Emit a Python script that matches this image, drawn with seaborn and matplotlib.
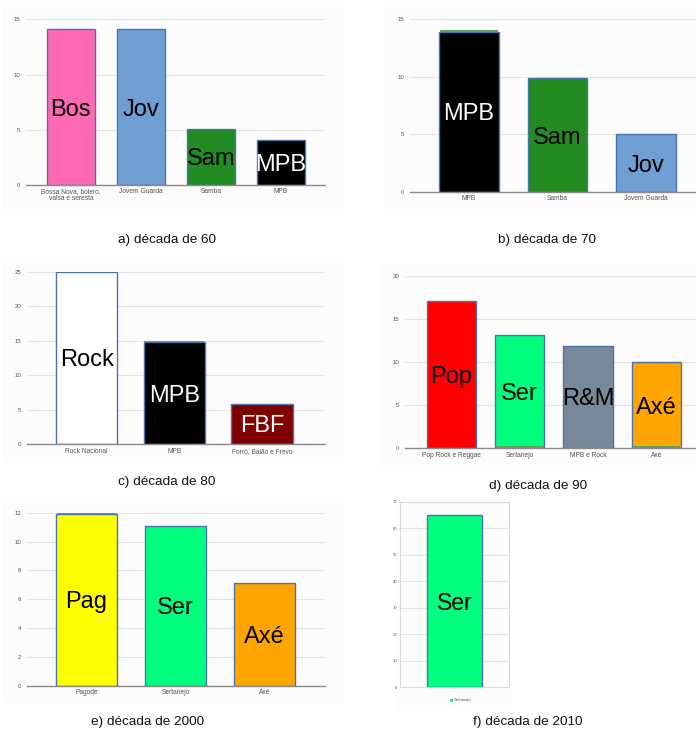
import matplotlib
matplotlib.use("Agg")
import matplotlib.pyplot as plt
import seaborn as sns
import pandas as pd
from matplotlib.patches import Rectangle

sns.set_theme(style="white")
plt.rcParams['font.family'] = ['Liberation Sans', 'DejaVu Sans']

W, H = 696, 729

# ---------------- data ----------------
cats_a = ["Bossa Nova, bolero,\nvalsa e seresta", "Jovem Guarda", "Samba", "MPB"]
vals_a = [14.1, 14.1, 5.1, 4.1]
labs_a = ["Bos", "Jov", "Sam", "MPB"]

cats_b = ["MPB", "Samba", "Jovem Guarda"]
vals_b = [13.9, 9.9, 5.0]
labs_b = ["MPB", "Sam", "Jov"]
caps_b = [0.15, 0.0, 0.0]

cats_c = ["Rock Nacional", "MPB", "Forró, Baião e Frevo"]
vals_c = [25.0, 14.8, 5.9]
labs_c = ["Rock", "MPB", "FBF"]
caps_c = [0.0, 0.2, 0.0]

cats_d = ["Pop Rock e Reggae", "Sertanejo", "MPB e Rock", "Axé"]
vals_d = [17.1, 13.1, 11.9, 10.0]
labs_d = ["Pop", "Ser", "R&M", "Axé"]
base_d = [0.0, 0.3, 0.0, 0.3]

cats_e = ["Pagode", "Sertanejo", "Axé"]
vals_e = [11.9, 11.1, 7.1]
labs_e = ["Pag", "Ser", "Axé"]
caps_e = [0.1, 0.0, 0.0]

cats_f = ["Sertanejo"]
vals_f = [65.0]
labs_f = ["Ser"]

captions = ["a) década de 60", "b) década de 70", "c) década de 80",
            "d) década de 90", "e) década de 2000", "f) década de 2010"]

# ---------------- colours ----------------
PINK, BLUE, GREEN, BLACK = "#ff69b4", "#6f9fd2", "#228b22", "#000000"
WHITE, MAROON, RED, SPRING = "#ffffff", "#800000", "#ff0000", "#00ff7f"
SLATE, ORANGE, YELLOW = "#778899", "#ffa500", "#ffff00"
EDGE = "#4a74ad"
SMALLGREEN = "#5f9f5f"

fig = plt.figure(figsize=(W / 100, H / 100), dpi=100)
fig.patch.set_facecolor("white")

# faint panel backgrounds
for (x0, y0, x1, y1) in [(2, 4, 345, 211), (385, 4, 696, 213), (2, 262, 345, 462),
                         (380, 265, 696, 468), (2, 500, 345, 703), (395, 495, 512, 710)]:
    fig.patches.append(Rectangle((x0 / W, 1 - y1 / H), (x1 - x0) / W, (y1 - y0) / H,
                                 transform=fig.transFigure, facecolor="#fcfcfc",
                                 edgecolor="none", zorder=-5))


def make_ax(x0, x1, ytop, ybot):
    return fig.add_axes([x0 / W, 1 - ybot / H, (x1 - x0) / W, (ybot - ytop) / H])


def panel(ax, cats, vals, colors, labels, lcolors, ylim, yticks, xlim, width,
          tick_fs=4.8, ytick_fs=4.4, lab_fs=17, caps=None, base=None):
    df = pd.DataFrame({"cat": cats, "val": vals})
    sns.barplot(data=df, x="cat", y="val", hue="cat", palette=colors, legend=False,
                ax=ax, width=width, edgecolor=EDGE, linewidth=1.0, saturation=1)
    if caps is not None:
        for i, (v, c) in enumerate(zip(vals, caps)):
            if c > 0:
                ax.bar([i], [c], bottom=[v], width=width * 0.97, color=SMALLGREEN,
                       linewidth=0, zorder=3)
    if base is not None:
        bdf = pd.DataFrame({"cat": cats, "val": base})
        sns.barplot(data=bdf, x="cat", y="val", color=SMALLGREEN, ax=ax,
                    width=width * 0.97, linewidth=0, saturation=1)
    for i, (v, t, lc) in enumerate(zip(vals, labels, lcolors)):
        ax.text(i, v / 2, t, ha="center", va="center_baseline", fontsize=lab_fs, color=lc,
                family=["Liberation Sans", "DejaVu Sans"], zorder=5)
    ax.set_xlim(*xlim)
    ax.set_ylim(*ylim)
    ax.set_yticks(yticks)
    ax.set_xlabel("")
    ax.set_ylabel("")
    ax.set_facecolor("none")
    ax.yaxis.grid(True, color="#e4e4e4", linewidth=0.8)
    ax.set_axisbelow(True)
    for s in ["top", "right", "left"]:
        ax.spines[s].set_visible(False)
    ax.spines["bottom"].set_color("#8a8a8a")
    ax.spines["bottom"].set_linewidth(1.0)
    ax.tick_params(axis="both", length=0, colors="#555555")
    ax.tick_params(axis="x", pad=2.5, labelsize=tick_fs)
    ax.tick_params(axis="y", pad=4, labelsize=ytick_fs)
    for lab in ax.get_xticklabels():
        lab.set_linespacing(1.0)


# a) 60
ax = make_ax(26, 325, 19.3, 185)
panel(ax, cats_a, vals_a, [PINK, BLUE, GREEN, BLACK], labs_a,
      ["black", "black", "black", "white"], (0, 15), [0, 5, 10, 15], (-0.64, 3.63), 0.69)

# b) 70
ax = make_ax(410, 696, 19.3, 192)
panel(ax, cats_b, vals_b, [BLACK, GREEN, BLUE], labs_b,
      ["white", "black", "black"], (0, 15), [0, 5, 10, 15], (-0.667, 2.565), 0.67,
      caps=caps_b)

# c) 80
ax = make_ax(27, 325, 271.7, 444.3)
panel(ax, cats_c, vals_c, [WHITE, BLACK, MAROON], labs_c,
      ["black", "white", "white"], (0, 25), [0, 5, 10, 15, 20, 25], (-0.68, 2.72), 0.7,
      caps=caps_c)

# d) 90
ax = make_ax(405, 696, 275.7, 448.3)
panel(ax, cats_d, vals_d, [RED, SPRING, SLATE, ORANGE], labs_d,
      ["black"] * 4, (0, 20), [0, 5, 10, 15, 20], (-0.68, 3.58), 0.72, base=base_d)

# e) 2000
ax = make_ax(27, 325, 512.7, 685.7)
panel(ax, cats_e, vals_e, [YELLOW, SPRING, ORANGE], labs_e,
      ["black"] * 3, (0, 12), [0, 2, 4, 6, 8, 10, 12], (-0.667, 2.68), 0.68, caps=caps_e)

# f) 2010
ax = make_ax(400, 509, 501.7, 687.3)
panel(ax, cats_f, vals_f, [SPRING], labs_f, ["black"], (0, 70),
      list(range(0, 71, 10)), (-0.5, 0.5), 0.5, tick_fs=3, ytick_fs=3, lab_fs=16.5)
ax.set_xticks([])
for s in ["top", "right", "left", "bottom"]:
    ax.spines[s].set_visible(True)
    ax.spines[s].set_color("#d8d8d8")
    ax.spines[s].set_linewidth(0.7)
ax.tick_params(axis="y", pad=2)
fig.patches.append(Rectangle((449.5 / W, 1 - 702 / H), 3 / W, 3 / H,
                             transform=fig.transFigure, facecolor=SPRING,
                             edgecolor="none"))
fig.text(453.5 / W, 1 - 700.5 / H, "Sertanejo", fontsize=3, color="#555555", ha="left",
         va="center")

# captions
cap_pos = [(167, 240), (546.5, 240), (167, 482), (538, 486), (147.5, 722.5), (527.5, 722)]
for t, (cx, cy) in zip(captions, cap_pos):
    fig.text(cx / W, 1 - cy / H, t, ha="center", va="center", fontsize=9.7, color="#111111")

fig.savefig("out.png", dpi=100)
